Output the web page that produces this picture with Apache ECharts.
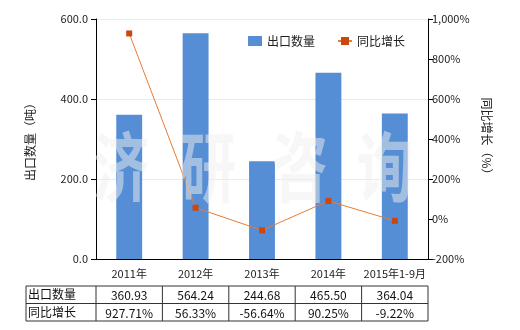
<!DOCTYPE html>
<html><head><meta charset="utf-8">
<script src="https://cdn.jsdelivr.net/npm/echarts@6/dist/echarts.min.js"></script>
<style>html,body{margin:0;padding:0;background:#fff}#c{width:520px;height:330px}</style>
</head><body><div id="c"></div>
<script>
var categories = ['2011年','2012年','2013年','2014年','2015年1-9月'];
var exportQty = [360.93, 564.24, 244.68, 465.50, 364.04];
var yoyGrowth = [927.71, 56.33, -56.64, 90.25, -9.22];
var qtyLabels = ['360.93','564.24','244.68','465.50','364.04'];
var growthLabels = ['927.71%','56.33%','-56.64%','90.25%','-9.22%'];
var seriesNames = ['出口数量','同比增长'];
var watermarkChars = ['济','研','咨','询'];

var FONT = '"Noto Sans CJK SC", "Noto Sans", sans-serif';
var chart = echarts.init(document.getElementById('c'), null, {renderer:'canvas'});
var gridL = 96, gridR = 92, gridT = 19, gridB = 71;
var option = {
  animation:false,
  textStyle:{fontFamily:FONT},
  grid:{left:gridL, right:gridR, top:gridT, bottom:gridB},
  legend:{
    left:243, top:30, itemGap:22, itemWidth:14, itemHeight:10,
    textStyle:{fontFamily:FONT, fontSize:12, color:'#222'},
    data:[{name:seriesNames[0], icon:'rect'},{name:seriesNames[1]}]
  },
  xAxis:{
    type:'category', data:categories,
    axisLine:{lineStyle:{color:'#000', width:1}},
    axisTick:{alignWithLabel:true, length:5, lineStyle:{color:'#000'}},
    axisLabel:{color:'#222', fontSize:11, margin:9, interval:0, fontFamily:FONT}
  },
  yAxis:[{
    type:'value', min:0, max:600, interval:200,
    name:'出口数量（吨）', nameLocation:'middle', nameGap:60, nameRotate:90,
    nameTextStyle:{fontSize:12, color:'#222', fontFamily:FONT},
    axisLine:{show:true, lineStyle:{color:'#000'}},
    axisTick:{show:true, length:5, lineStyle:{color:'#000'}},
    axisLabel:{color:'#222', fontSize:11, margin:8, formatter:function(v){return v.toFixed(1);}},
    splitLine:{lineStyle:{color:'#ececdc'}}
  },{
    type:'value', min:-200, max:1000, interval:200, position:'right',
    name:'同比增长（%）', nameLocation:'middle', nameGap:53, nameRotate:-90,
    nameTextStyle:{fontSize:12, color:'#222', fontFamily:FONT},
    axisLine:{show:true, lineStyle:{color:'#000'}},
    axisTick:{show:true, length:5, lineStyle:{color:'#000'}},
    axisLabel:{color:'#222', fontSize:11, margin:4, formatter:function(v){return v.toLocaleString('en-US')+'%';}},
    splitLine:{show:false}
  }],
  series:[{
    name:seriesNames[0], type:'bar', data:exportQty, barWidth:'39%',
    itemStyle:{color:'#558ed5'}
  },{
    name:seriesNames[1], type:'line', yAxisIndex:1, data:yoyGrowth,
    symbol:'rect', symbolSize:6,
    lineStyle:{color:'#ea7a32', width:1},
    itemStyle:{color:'#c8480e'}
  }]
};
chart.setOption(option);

function buildGraphics(){
  var g = [];
  var xs = categories.map(function(c){ return chart.convertToPixel({xAxisIndex:0}, c); });
  var step = xs[1]-xs[0];
  var tableL = 26, colEdge = xs[0]-step/2, tableR = xs[xs.length-1]+step/2;
  var rowY = [286, 303.5, 321];
  var ls = {stroke:'#333', lineWidth:1};
  rowY.forEach(function(y){
    g.push({type:'line', shape:{x1:tableL, y1:y, x2:tableR, y2:y}, style:ls, silent:true});
  });
  var vx = [tableL, colEdge].concat(xs.map(function(x){return x+step/2;}));
  vx.forEach(function(x){
    g.push({type:'line', shape:{x1:x, y1:rowY[0], x2:x, y2:rowY[2]}, style:ls, silent:true});
  });
  var rows = [qtyLabels, growthLabels];
  rows.forEach(function(r, ri){
    var cy = (rowY[ri]+rowY[ri+1])/2;
    g.push({type:'text', x:tableL+2, y:cy, style:{text:seriesNames[ri], font:'12px '+FONT, fill:'#111', textAlign:'left', textVerticalAlign:'middle'}});
    r.forEach(function(t, ci){
      g.push({type:'text', x:xs[ci], y:cy+1, style:{text:t, font:'12px '+FONT, fill:'#111', textAlign:'center', textVerticalAlign:'middle'}});
    });
  });
  var wmX = [121, 208, 300, 385];
  watermarkChars.forEach(function(ch, i){
    g.push({type:'text', x:wmX[i], y:167, z:100, scaleX:0.85, scaleY:1.15, silent:true,
      style:{text:ch, font:'bold 66px '+FONT, fill:'rgba(240,240,240,0.5)', textAlign:'center', textVerticalAlign:'middle'}});
  });
  chart.setOption({graphic:g});
}
buildGraphics();
</script>
</body></html>
